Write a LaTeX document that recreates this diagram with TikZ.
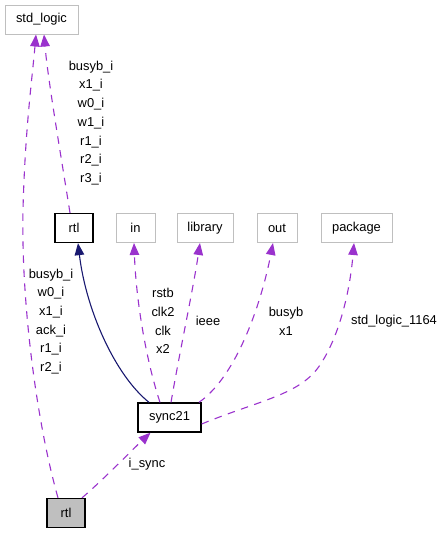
\documentclass[tikz,border=0pt]{standalone}
\usepackage{fontspec}
\setmainfont{Liberation Sans}
\usetikzlibrary{arrows.meta}
\definecolor{edgep}{HTML}{9A32CD}
\definecolor{edgen}{HTML}{191970}
\definecolor{boxg}{HTML}{BFBFBF}
\begin{document}
\begin{tikzpicture}[x=1pt,y=-1pt,
  every node/.style={font=\fontsize{12.9}{18.7}\selectfont},
  extbox/.style={draw=boxg,line width=1pt,minimum height=29pt,inner xsep=7pt,inner ysep=0pt,fill=white},
  mainbox/.style={draw=black,line width=1.3pt,minimum height=29pt,inner xsep=7pt,inner ysep=0pt,fill=white},
  lbl/.style={align=center,inner sep=0pt},
  dep/.style={draw=edgep,line width=1.1pt,dash pattern=on 7.5pt off 6.5pt,-{Triangle[length=12pt,width=9.5pt]}},
  inh/.style={draw=edgen,line width=1.1pt,-{Triangle[length=12pt,width=9.5pt]}}]
\useasboundingbox (0,0) rectangle (443,533);
% nodes
\node[extbox,minimum width=73pt] (stdlogic) at (41.5,19.5) {std\_logic};
\node[mainbox,minimum width=38pt] (rtl) at (74,228) {rtl};
\node[extbox,minimum width=39pt] (in) at (135.5,228) {in};
\node[extbox,minimum width=56pt] (library) at (205,228) {library};
\node[extbox,minimum width=40pt] (out) at (277,228) {out};
\node[extbox,minimum width=71pt] (package) at (356.5,228) {package};
\node[mainbox,minimum width=63pt] (sync) at (169.5,417.5) {sync21};
\node[mainbox,minimum width=38pt,fill=boxg] (rtlb) at (66,513) {rtl};
% edges
\draw[dep] ([xshift=-8pt]rtlb.north) .. controls (36,420) and (21,300) .. (23,210) .. controls (25,130) and (32,80) .. ([xshift=-5.5pt]stdlogic.south);
\draw[dep] ([xshift=-4pt]rtl.north) .. controls (60,150) and (48,80) .. ([xshift=2.5pt]stdlogic.south);
\draw[dep] ([xshift=16pt]rtlb.north) .. controls (105,478) and (130,452) .. ([xshift=-19pt]sync.south);
\draw[inh] ([xshift=-20.5pt]sync.north) .. controls (115,375) and (86,310) .. ([xshift=4pt]rtl.south);
\draw[dep] ([xshift=-9.5pt]sync.north) .. controls (146,360) and (136,300) .. ([xshift=-1.5pt]in.south);
\draw[dep] ([xshift=1.5pt]sync.north) .. controls (180,350) and (193,290) .. ([xshift=-5pt]library.south);
\draw[dep] ([xshift=29.5pt]sync.north) .. controls (238,375) and (262,300) .. ([xshift=-4pt]out.south);
\draw[dep] ([yshift=-6.5pt]sync.east) .. controls (260,400) and (300,395) .. (320,365) .. controls (340,335) and (350,290) .. ([xshift=-2.5pt]package.south);
% labels
\node[lbl] (l1) at (91,123) {busyb\_i\\x1\_i\\w0\_i\\w1\_i\\r1\_i\\r2\_i\\r3\_i};
\node[lbl] (l2) at (51,321.5) {busyb\_i\\w0\_i\\x1\_i\\ack\_i\\r1\_i\\r2\_i};
\node[lbl] (l3) at (163,321) {rstb\\clk2\\clk\\x2};
\node[lbl] (l4) at (208,321) {ieee};
\node[lbl] (l5) at (286,321.5) {busyb\\x1};
\node[lbl] (l6) at (394,321) {std\_logic\_1164};
\node[lbl] (l7) at (147,464) {i\_sync};
\end{tikzpicture}
\end{document}
